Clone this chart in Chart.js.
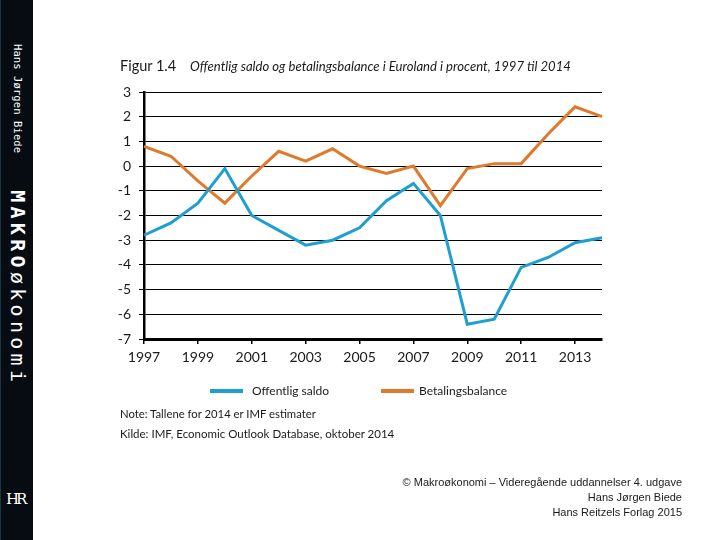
<!DOCTYPE html>
<html>
<head>
<meta charset="utf-8">
<script src="https://cdn.jsdelivr.net/npm/chart.js@4"></script>
<style>
  html, body { margin: 0; padding: 0; background: #fff; }
  #page { position: relative; width: 720px; height: 540px; overflow: hidden; }
  #chart { position: absolute; left: 0; top: 0; }
  .txt { position: absolute; white-space: nowrap; color: #1a1a1a; font-family: Lato, sans-serif; }
  #sidebar { position: absolute; left: 0; top: 0; width: 33px; height: 540px; background: #070b12; border-left: 1px solid #1c3446; box-sizing: border-box; }
  #spine { position: absolute; left: 6px; top: 44px; writing-mode: vertical-rl; color: #fff; font-family: "DejaVu Sans Mono", monospace; white-space: nowrap; }
  #spine .author { font-size: 10.5px; letter-spacing: 0.1px; margin-bottom: 37px; display: inline-block; }
  #spine .title { font-size: 20px; letter-spacing: 4.3px; }
  #logo { position: absolute; left: 6px; top: 490px; color: #fff; font-family: "DejaVu Serif", serif; font-size: 15px; letter-spacing: -3px; }
  .legend-item { position: absolute; font-size: 12px; line-height: 14px; }
  .legend-swatch { position: absolute; height: 4px; }
</style>
</head>
<body>
<div id="page">
  <canvas id="chart" width="720" height="540"></canvas>

  <div id="sidebar"></div>
  <div id="spine"><span class="author">Hans Jørgen Biede</span><span class="title"><b>MAKRO</b>økonomi</span></div>
  <div id="logo">HR</div>

  <div class="txt" style="left:120px; top:57px; font-size:14.5px; line-height:18px;">Figur 1.4</div>
  <div class="txt" style="left:190px; top:57px; font-size:13.1px; line-height:18px; font-style:italic;">Offentlig saldo og betalingsbalance i Euroland i procent, 1997 til 2014</div>

  <div id="legend"></div>

  <div class="txt" style="left:120px; top:406px; font-size:11.3px; line-height:16px;">Note: Tallene for 2014 er IMF estimater</div>
  <div class="txt" style="left:120px; top:426px; font-size:11.5px; line-height:16px;">Kilde: IMF, Economic Outlook Database, oktober 2014</div>

  <div class="txt" style="right:38px; top:475px; font-family:'Liberation Sans', sans-serif; font-size:11px; line-height:15px; text-align:right;">
    © Makroøkonomi – Videregående uddannelser 4. udgave<br>Hans Jørgen Biede<br>Hans Reitzels Forlag 2015
  </div>
</div>

<script>
const years = ['1997', '1998', '1999', '2000', '2001', '2002', '2003', '2004', '2005',
    '2006', '2007', '2008', '2009', '2010', '2011', '2012', '2013', '2014']
const offentligSaldo = [-2.8, -2.3, -1.5, -0.1, -2.0, -2.6, -3.2, -3.0, -2.5,
    -1.4, -0.7, -2.0, -6.4, -6.2, -4.1, -3.7, -3.1, -2.9]
const betalingsbalance = [0.8, 0.4, -0.6, -1.5, -0.4, 0.6, 0.2, 0.7, 0.0,
    -0.3, 0.0, -1.6, -0.1, 0.1, 0.1, 1.3, 2.4, 2.0]
const seriesLabels = ['Offentlig saldo', 'Betalingsbalance']
const yMin = -7
const yMax = 3

const blue = '#1e9fd2'
const orange = '#e07a2a'
const tickFont = {family: 'Lato', size: 14}

const chart = new Chart(document.getElementById('chart').getContext('2d'), {
    type: 'line',
    data: {
        labels: years,
        datasets: [
            {
                label: seriesLabels[0],
                data: offentligSaldo,
                borderColor: blue,
                backgroundColor: blue,
                borderWidth: 3,
                pointRadius: 0,
                tension: 0,
            },
            {
                label: seriesLabels[1],
                data: betalingsbalance,
                borderColor: orange,
                backgroundColor: orange,
                borderWidth: 3,
                pointRadius: 0,
                tension: 0,
            },
        ],
    },
    options: {
        responsive: false,
        animation: false,
        layout: {padding: {left: 100, right: 118, top: 92, bottom: 171}},
        plugins: {
            legend: {display: false},
            tooltip: {enabled: false},
        },
        scales: {
            x: {
                offset: false,
                afterFit: scale => { scale.height = 30 },
                border: {color: '#000', width: 3},
                grid: {drawOnChartArea: false, drawTicks: true, tickLength: 5, color: '#000', lineWidth: 1.5},
                ticks: {
                    autoSkip: false,
                    maxRotation: 0,
                    color: '#1a1a1a',
                    font: tickFont,
                    padding: 5,
                    callback: (value, index) => index % 2 === 0 ? years[index] : null,
                },
            },
            y: {
                min: yMin,
                max: yMax,
                afterFit: scale => { scale.width = 44 },
                border: {color: '#000', width: 2.5},
                grid: {color: '#000', lineWidth: 1, tickLength: 5},
                ticks: {stepSize: 1, color: '#1a1a1a', font: tickFont, padding: 8},
            },
        },
    },
})

// html legend built from the datasets
const legendEl = document.getElementById('legend')
const legendPos = [{swatch: 210, text: 252}, {swatch: 381, text: 419}]
chart.data.datasets.forEach((ds, i) => {
    const sw = document.createElement('div')
    sw.className = 'legend-swatch'
    sw.style.left = legendPos[i].swatch + 'px'
    sw.style.top = '389px'
    sw.style.width = '33px'
    sw.style.background = ds.borderColor
    legendEl.appendChild(sw)
    const tx = document.createElement('div')
    tx.className = 'txt legend-item'
    tx.style.left = legendPos[i].text + 'px'
    tx.style.top = '384px'
    tx.textContent = ds.label
    legendEl.appendChild(tx)
})
</script>
</body>
</html>
